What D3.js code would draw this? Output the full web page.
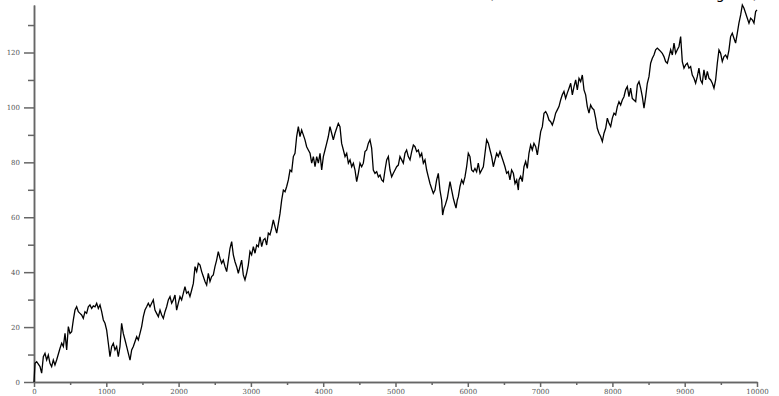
<!DOCTYPE html>
<html>
<head>
<meta charset="utf-8">
<script src="https://cdn.jsdelivr.net/npm/d3@7"></script>
<style>
  body { margin: 0; background: #fff; }
  svg { display: block; }
</style>
</head>
<body>
<div id="main"></div>
<script>
const cte = {
  w: 779,
  h: 396,
  margin: { top: 5, right: 22, bottom: 14, left: 34 }
};

// step index of each reading
const steps = [
  0, 14, 37, 83, 106, 129, 152, 175, 198, 221, 244, 267, 290, 313, 360, 383, 406, 429, 452, 475,
  498, 521, 544, 567, 590, 613, 636, 659, 682, 705, 728, 751, 774, 798, 821, 844, 867, 890, 913, 936,
  959, 982, 1005, 1028, 1051, 1074, 1097, 1120, 1143, 1166, 1189, 1212, 1235, 1259, 1282, 1305, 1328, 1351, 1374, 1420,
  1443, 1466, 1489, 1512, 1535, 1558, 1581, 1604, 1627, 1650, 1673, 1696, 1720, 1743, 1766, 1789, 1812, 1835, 1858, 1881,
  1904, 1927, 1950, 1973, 1996, 2019, 2042, 2065, 2088, 2111, 2134, 2157, 2181, 2204, 2227, 2250, 2273, 2296, 2319, 2342,
  2365, 2388, 2411, 2434, 2457, 2480, 2503, 2526, 2549, 2572, 2595, 2618, 2642, 2665, 2688, 2711, 2734, 2757, 2780, 2803,
  2826, 2849, 2872, 2895, 2918, 2941, 2964, 2987, 3010, 3034, 3057, 3080, 3103, 3126,
  3149, 3172, 3195, 3218, 3241, 3264, 3287, 3310, 3333, 3357, 3380, 3403, 3426, 3449, 3472, 3495, 3518, 3541, 3564, 3587,
  3610, 3633, 3656, 3679, 3702, 3725, 3748, 3771, 3794, 3818, 3841, 3864, 3887, 3910, 3933, 3956, 3979, 4002, 4025, 4048,
  4071, 4094, 4117, 4140, 4163, 4186, 4209, 4232, 4255, 4279, 4302, 4325, 4348, 4371, 4394, 4417, 4440, 4463, 4486, 4509,
  4532, 4555, 4578, 4601, 4624, 4647, 4670, 4693, 4716, 4740, 4763, 4786, 4809, 4832, 4855, 4878, 4901, 4924, 4947, 4970,
  4993, 5016, 5039, 5062, 5085, 5108, 5131, 5154, 5177, 5201, 5224, 5247, 5270, 5293, 5316, 5339, 5362, 5385, 5408, 5431,
  5454, 5477, 5500, 5523, 5546, 5569, 5592, 5615, 5638, 5652, 5671, 5689, 5717, 5754, 5777, 5800, 5818, 5837, 5855, 5869,
  5892, 5915, 5938, 5961, 5984, 6007, 6030, 6053, 6076, 6099, 6122, 6145, 6169, 6192, 6215, 6238, 6261, 6284, 6307, 6330,
  6353, 6376, 6399, 6422, 6445, 6468, 6491, 6514, 6537, 6560, 6583, 6606, 6630, 6653, 6676, 6699,
  6708, 6731, 6754, 6777, 6800, 6823, 6846, 6869, 6892, 6915, 6939, 6962, 6985, 7008, 7031, 7054, 7077, 7100, 7123, 7146,
  7169, 7192, 7215, 7238, 7261, 7284, 7307, 7330, 7353, 7376, 7400, 7423, 7446, 7469, 7492, 7515, 7538, 7561, 7584, 7607,
  7630, 7653, 7676, 7699, 7722, 7745, 7768, 7791, 7814, 7837, 7861, 7884, 7907, 7930, 7953, 7976, 7999, 8022, 8045, 8068,
  8091, 8114, 8137, 8160, 8183, 8206, 8229, 8252, 8275, 8298, 8322, 8345, 8368, 8391, 8414, 8437, 8460, 8483, 8506, 8529,
  8552, 8575, 8598, 8621, 8644, 8667, 8690, 8713, 8736, 8760, 8783, 8806, 8829, 8852, 8875, 8898, 8921, 8944, 8967, 8990,
  9013, 9036, 9059, 9082, 9105, 9128, 9151, 9174, 9197, 9220, 9243, 9266, 9290, 9313, 9336, 9359, 9382, 9405, 9428, 9451,
  9474, 9497, 9520, 9543, 9566, 9589, 9612, 9635, 9658, 9681, 9704, 9727, 9750, 9774, 9797, 9820, 9843, 9866, 9889, 9912,
  9935, 9958, 9981, 10000
];

// walk value at each step
const walk = [
  0, 6.8, 7.4, 5.6, 3.2, 9.2, 10.4, 8.0, 9.8, 6.8, 5.6, 8.0, 6.2, 8.0, 12.3, 14.1, 12.9, 17.7, 11.7, 20.2,
  17.7, 18.3, 22.6, 26.2, 27.4, 25.6, 25.0, 24.4, 23.2, 25.6, 25.0, 27.4, 28.1, 26.8, 27.7, 27.4, 28.7, 26.8, 28.1, 25.6,
  22.6, 21.4, 18.9, 14.1, 9.2, 12.9, 14.1, 11.7, 12.9, 9.2, 12.9, 21.4, 17.7, 15.3, 12.9, 10.4, 8.0, 11.7, 12.9, 16.5,
  15.3, 17.7, 20.2, 23.8, 26.2, 27.4, 28.7, 27.4, 28.7, 29.9, 26.2, 25.0, 23.8, 26.2, 24.4, 23.2, 25.6, 27.4, 29.9, 31.1,
  28.7, 29.9, 31.7, 26.2, 28.7, 31.1, 29.9, 32.3, 34.7, 32.3, 32.9, 31.1, 33.5, 35.9, 42.0, 40.2, 43.2, 42.6, 40.2, 38.4,
  36.6, 35.3, 39.6, 36.6, 38.4, 39.0, 42.0, 44.4, 47.5, 45.1, 43.2, 44.4, 42.0, 40.2, 44.4, 48.7, 51.1, 46.3, 43.8, 42.0,
  39.6, 42.0, 44.4, 39.0, 37.2, 39.6, 42.6, 47.5, 46.3, 49.3, 46.9, 49.9, 49.3, 52.9,
  49.3, 51.7, 52.3, 49.9, 54.2, 53.6, 56.0, 59.0, 56.6, 54.2, 57.8, 61.4, 66.3, 69.9, 69.3, 71.2, 73.6, 77.2, 76.6, 82.1,
  83.3, 89.4, 93.0, 89.4, 91.8, 90.0, 88.2, 85.7, 84.5, 83.3, 79.7, 82.1, 78.4, 82.1, 79.7, 83.3, 77.2, 82.1, 84.5, 86.9,
  89.4, 93.0, 90.6, 88.2, 90.6, 92.4, 94.2, 93.0, 86.9, 84.5, 82.1, 83.3, 79.7, 80.9, 78.4, 79.7, 77.2, 73.0, 76.0, 79.7,
  78.4, 79.7, 83.9, 84.5, 86.9, 88.2, 85.2, 77.2, 76.0, 76.6, 74.7, 75.4, 73.6, 73.0, 77.2, 80.9, 82.1, 77.2, 74.7, 76.0,
  77.2, 78.4, 79.0, 82.1, 80.9, 79.7, 83.3, 84.5, 82.1, 80.9, 83.9, 86.3, 85.7, 83.9, 84.5, 82.1, 83.3, 79.7, 80.9, 77.2,
  74.7, 72.3, 70.5, 68.7, 69.9, 73.6, 76.0, 69.9, 66.3, 60.8, 63.3, 64.5, 67.0, 73.0, 69.9, 66.9, 65.1, 63.3, 66.3, 67.5,
  71.2, 73.6, 72.3, 74.7, 78.4, 83.3, 82.1, 77.2, 76.6, 77.8, 76.6, 79.7, 76.0, 77.2, 78.4, 83.3, 88.2, 87.0, 84.5, 82.1,
  78.4, 80.9, 83.3, 82.1, 83.9, 82.1, 80.3, 78.4, 76.0, 76.6, 73.6, 77.2, 76.0, 72.3, 73.6, 69.9,
  73.6, 74.9, 73.0, 78.4, 80.3, 77.8, 83.3, 86.3, 84.5, 86.9, 85.7, 82.7, 86.9, 91.2, 93.0, 97.9, 98.5, 97.3, 95.4, 94.8,
  93.6, 95.4, 97.9, 99.1, 100.3, 102.7, 104.6, 105.8, 103.3, 105.2, 107.0, 108.8, 104.6, 107.6, 110.0, 106.4, 110.6, 109.4, 111.8, 106.4,
  104.6, 100.3, 97.9, 100.9, 99.7, 99.1, 96.1, 92.4, 90.6, 89.4, 87.6, 90.6, 92.4, 96.1, 94.2, 93.0, 96.1, 97.9, 97.3, 100.3,
  102.1, 100.9, 102.7, 103.9, 106.4, 107.6, 103.9, 107.0, 103.3, 102.7, 102.1, 108.2, 109.4, 107.0, 103.9, 99.7, 103.9, 108.8, 111.2, 116.1,
  117.9, 119.1, 121.0, 121.6, 121.0, 120.4, 119.7, 118.5, 116.7, 116.1, 118.5, 121.0, 119.1, 123.4, 119.7, 121.0, 122.2, 125.8, 116.7, 114.3,
  115.5, 116.1, 114.3, 114.9, 111.8, 110.6, 108.8, 111.2, 114.3, 110.0, 108.8, 113.7, 110.0, 113.1, 110.6, 110.0, 108.8, 107.0, 110.0, 116.1,
  120.9, 119.7, 116.7, 118.5, 119.1, 117.9, 120.9, 125.8, 127.0, 125.2, 123.4, 127.0, 130.7, 133.7, 137.3, 136.1, 134.3, 132.5, 130.7, 132.5,
  131.9, 130.7, 134.9, 135.5
];

const xMajorTicks = [0, 1000, 2000, 3000, 4000, 5000, 6000, 7000, 8000, 9000, 10000];
const xMinorTicks = [500, 1500, 2500, 3500, 4500, 5500, 6500, 7500, 8500, 9500];
const yMajorTicks = [0, 20, 40, 60, 80, 100, 120];
const yMinorTicks = [10, 30, 50, 70, 90, 110, 130];

const titleText = "Random Walk (n = 10000 mean drift 0.013 long run)";

const width = cte.w - cte.margin.left - cte.margin.right;
const height = cte.h - cte.margin.top - cte.margin.bottom;

const data = steps.map((s, i) => ({ step: s, value: walk[i] }));

const xScale = d3.scaleLinear()
  .domain([0, 10000])
  .range([0, width]);

const yScale = d3.scaleLinear()
  .domain([0, d3.max(walk)])
  .range([height, 0]);

const svg = d3.select("#main").append("svg")
  .attr("width", cte.w)
  .attr("height", cte.h);

// title sits mostly above the frame, only its descenders peek in
svg.append("text")
  .attr("x", 758)
  .attr("y", -1.5)
  .attr("text-anchor", "end")
  .style("font-family", "DejaVu Sans")
  .style("font-size", "14px")
  .style("fill", "#000")
  .text(titleText);

const g = svg.append("g")
  .attr("transform", `translate(${cte.margin.left}, ${cte.margin.top})`);

function styleAxis(sel) {
  sel.select(".domain").style("stroke", "#666").style("stroke-width", "1.5px");
  sel.selectAll(".tick line").style("stroke", "#666").style("stroke-width", "1.5px");
  sel.selectAll(".tick text")
    .style("font-family", "DejaVu Serif")
    .style("font-size", "7px")
    .style("fill", "#555");
}

// minor ticks first so the major axis domain is drawn on top
g.append("g")
  .attr("class", "y-minor")
  .call(d3.axisLeft(yScale).tickValues(yMinorTicks).tickSize(6).tickSizeOuter(0).tickFormat(""))
  .call(styleAxis);

g.append("g")
  .attr("class", "y-axis")
  .call(d3.axisLeft(yScale).tickValues(yMajorTicks).tickSize(10).tickSizeOuter(0).tickPadding(4))
  .call(styleAxis);

g.append("g")
  .attr("class", "x-minor")
  .attr("transform", `translate(0, ${height})`)
  .call(d3.axisBottom(xScale).tickValues(xMinorTicks).tickSize(3).tickSizeOuter(0).tickFormat(""))
  .call(styleAxis);

g.append("g")
  .attr("class", "x-axis")
  .attr("transform", `translate(0, ${height})`)
  .call(d3.axisBottom(xScale).tickValues(xMajorTicks).tickSize(5).tickSizeOuter(0).tickPadding(2).tickFormat(d3.format("d")))
  .call(styleAxis);

const lineGenerator = d3.line()
  .x(d => xScale(d.step))
  .y(d => yScale(d.value));

g.append("path")
  .datum(data)
  .attr("class", "line-path")
  .attr("d", lineGenerator)
  .attr("fill", "none")
  .attr("stroke", "#000")
  .attr("stroke-width", 1.3)
  .attr("stroke-linejoin", "miter");
</script>
</body>
</html>
